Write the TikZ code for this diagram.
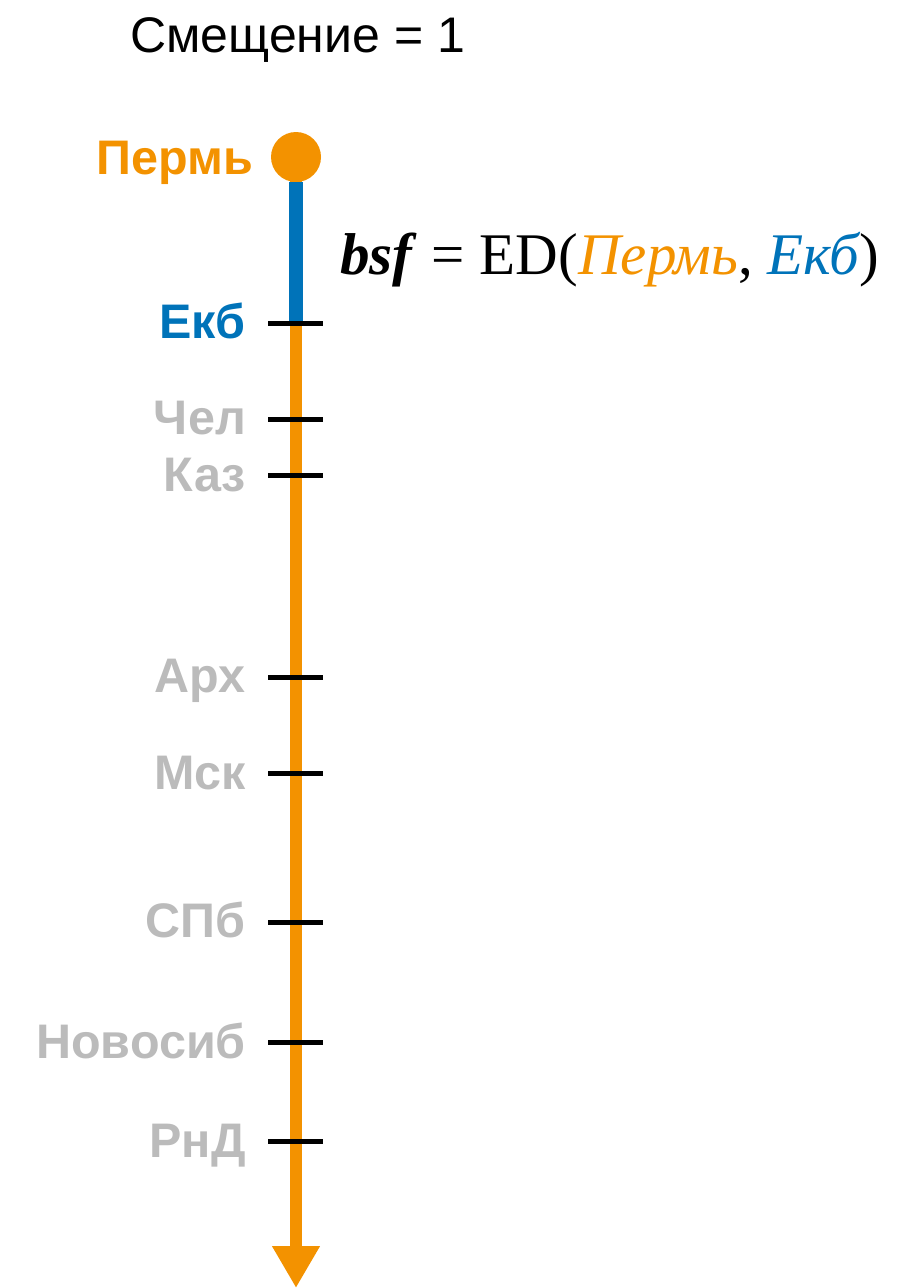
\documentclass[tikz,border=0pt]{standalone}
\usepackage{fontspec}
\setmainfont{Liberation Serif}
\newfontfamily\labelfont{Liberation Sans}
\usetikzlibrary{arrows.meta}

\definecolor{permorange}{RGB}{243,146,0}
\definecolor{ekbblue}{RGB}{0,115,185}
\definecolor{citygray}{RGB}{187,187,187}

\begin{document}
\begin{tikzpicture}[
    x=1pt, y=-1pt,
    citylabel/.style={
        font=\labelfont\bfseries\fontsize{48.5}{58}\selectfont,
        text=citygray, anchor=base east, inner sep=0pt
    },
    tickmark/.style={
        draw=black, line width=5pt
    },
    axisline/.style={
        draw=permorange, line width=12pt,
        -{Triangle[length=42pt, width=45pt]}
    },
    shiftline/.style={
        draw=ekbblue, line width=14pt
    }
]
\useasboundingbox (0,0) rectangle (897,1288);

% --- Title ---
\node[font=\labelfont\fontsize{50}{60}\selectfont, anchor=base west, inner sep=0pt]
    (title) at (130,52) {Смещение = 1};

% --- Points on the axis ---
\coordinate (ekb) at (296,323);
\coordinate (chel) at (296,419);
\coordinate (kaz) at (296,475);
\coordinate (arh) at (296,677);
\coordinate (msk) at (296,773);
\coordinate (spb) at (296,922);
\coordinate (nsk) at (296,1042);
\coordinate (rnd) at (296,1141);
\coordinate (axisend) at (296,1288);

% --- Axis ---
\node[circle, fill=permorange, minimum size=50pt, inner sep=0pt] (perm) at (296,157) {};
\draw[axisline] (perm.center) -- (axisend);
\draw[shiftline] (perm.south) -- (ekb);

% --- Ticks ---
\draw[tickmark] ([xshift=-28pt]ekb) -- ([xshift=27pt]ekb);
\draw[tickmark] ([xshift=-28pt]chel) -- ([xshift=27pt]chel);
\draw[tickmark] ([xshift=-28pt]kaz) -- ([xshift=27pt]kaz);
\draw[tickmark] ([xshift=-28pt]arh) -- ([xshift=27pt]arh);
\draw[tickmark] ([xshift=-28pt]msk) -- ([xshift=27pt]msk);
\draw[tickmark] ([xshift=-28pt]spb) -- ([xshift=27pt]spb);
\draw[tickmark] ([xshift=-28pt]nsk) -- ([xshift=27pt]nsk);
\draw[tickmark] ([xshift=-28pt]rnd) -- ([xshift=27pt]rnd);

% --- City labels ---
\node[citylabel, text=permorange] (lperm) at (253,174) {Пермь};
\node[citylabel, text=ekbblue] (lekb) at (246,338) {Екб};
\node[citylabel] (lchel) at (246,434) {Чел};
\node[citylabel] (lkaz) at (246,491) {Каз};
\node[citylabel] (larh) at (246,692) {Арх};
\node[citylabel] (lmsk) at (246,789) {Мск};
\node[citylabel] (lspb) at (246,937) {СПб};
\node[citylabel] (lnsk) at (246,1058) {Новосиб};
\node[citylabel] (lrnd) at (246,1157) {РнД};

% --- Distance formula ---
\node[font=\fontsize{59}{70}\selectfont, anchor=base west, inner sep=0pt]
    (formula) at (340,274)
    {\textbf{\textit{bsf}} = ED(\textit{\color{permorange}Пермь}, \textit{\color{ekbblue}Екб})};

\end{tikzpicture}
\end{document}
